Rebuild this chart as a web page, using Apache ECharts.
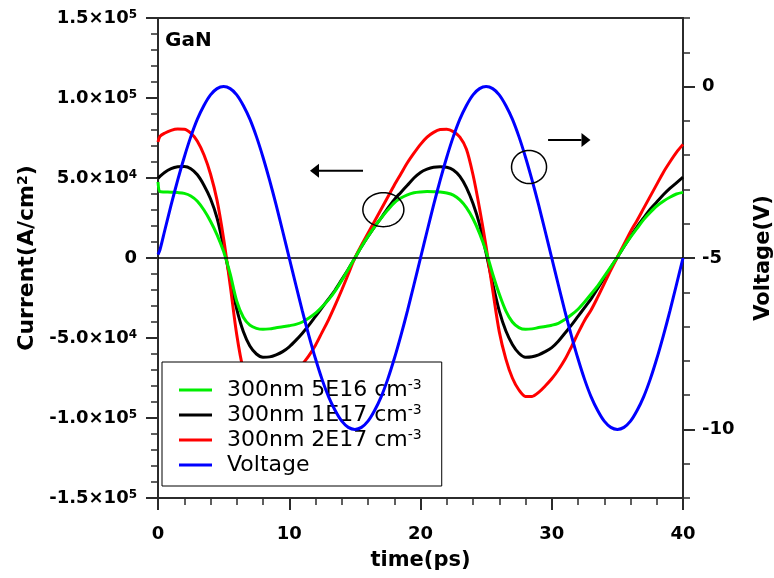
<!DOCTYPE html>
<html><head><meta charset="utf-8">
<script src="https://cdn.jsdelivr.net/npm/echarts@6/dist/echarts.min.js"></script>
<style>html,body{margin:0;padding:0;background:#fff}#c{width:774px;height:578px}</style>
</head><body><div id="c"></div>
<script>
// time (ps)
const times = [0,0.15,0.5,1,1.5,2,2.5,3,3.5,4,4.5,5,5.5,6,6.5,7,7.5,8,8.5,9,9.5,10,10.5,11,11.5,12,12.5,13,13.5,14,14.5,15,15.5,16,16.5,17,17.5,18,18.5,19,19.5,20,20.5,21,21.5,22,22.5,23,23.5,24,24.5,25,25.5,26,26.5,27,27.5,28,28.5,29,29.5,30,30.5,31,31.5,32,32.5,33,33.5,34,34.5,35,35.5,36,36.5,37,37.5,38,38.5,39,39.5,40];
// current densities in units of 10^3 A/cm^2
const current5E16 = [47.5,41.5,41.3,41.1,40.9,40.4,38.8,35.5,30,23,14.5,4,-10,-27,-37,-42,-44,-44.6,-44.3,-43.6,-43,-42.3,-41.5,-40,-37.5,-34.5,-30.5,-26,-20.5,-14,-7,0,7,13.5,19.5,25,30,34.5,37.5,39.5,40.8,41.3,41.5,41.4,41.2,40.6,39.3,36.3,31.5,24.5,15.4,4,-10,-22.5,-33,-40,-43.5,-44.6,-44.3,-43.5,-42.8,-42,-40.8,-38.5,-35.5,-32,-27.5,-22.5,-17.5,-11.5,-5.5,0.5,7,13,18.5,24,28.5,32.5,35.5,38,40,41];
const current1E17 = [49.8,51,53.5,55.8,57,57.2,55.8,52,45.5,37,25,7,-13,-32,-46,-55,-60,-62,-61.8,-60.5,-58.5,-55.5,-51.5,-47,-42,-36.5,-31,-25.5,-20,-13.5,-7,0,7,13.5,19.5,25,31,36.5,41,45.5,50,53.5,55.5,56.7,57,56.7,55,51,44,34,21,3,-16,-33,-45.5,-54,-59.5,-62,-61.7,-60.5,-58.5,-56,-52,-47,-42,-36.5,-31,-25.5,-19,-12.5,-6,0.5,7,13.5,19.5,25,30.5,35,39.5,43.5,47,50.5];
const current2E17 = [72.5,76,78,79.8,80.6,80.5,78,73,64.5,52.5,36,12,-17,-48,-70,-81.5,-85.5,-86.8,-86.5,-84.5,-81,-77,-72,-66.5,-61,-54.5,-46.5,-38.5,-29.5,-20,-10,0,8,15.5,23,30.5,38,45.5,52.5,59.5,65.5,71,75.5,78.5,80.3,80.5,79,75.5,68,52,31,7,-20,-46,-63,-75,-82.5,-86.5,-86.5,-84,-80,-75.5,-70,-63.5,-55.5,-47,-39,-32.5,-24.5,-16,-7.5,0.5,8.5,16.5,23.5,31,38.5,46,53.5,60,66,71];
// voltage (V)
const voltage = [-4.9,-4.76,-4.22,-3.45,-2.73,-2.06,-1.46,-0.95,-0.55,-0.24,-0.06,0,-0.06,-0.24,-0.55,-0.95,-1.46,-2.06,-2.73,-3.45,-4.22,-5,-5.78,-6.55,-7.27,-7.94,-8.54,-9.05,-9.45,-9.76,-9.94,-10,-9.94,-9.76,-9.45,-9.05,-8.54,-7.94,-7.27,-6.55,-5.78,-5,-4.22,-3.45,-2.73,-2.06,-1.46,-0.95,-0.55,-0.24,-0.06,0,-0.06,-0.24,-0.55,-0.95,-1.46,-2.06,-2.73,-3.45,-4.22,-5,-5.78,-6.55,-7.27,-7.94,-8.54,-9.05,-9.45,-9.76,-9.94,-10,-9.94,-9.76,-9.45,-9.05,-8.54,-7.94,-7.27,-6.55,-5.78,-5];
const voltageTicks = [0,-5,-10];
const seriesNames = ['300nm 5E16','300nm 1E17','300nm 2E17','Voltage'];
const KA = 1000;

const FONT = 'DejaVu Sans';
const AX = '#2b2b2b';
const pairs = (arr, k) => times.map((t, i) => [t, arr[i] * k]);

function sci(v) {
  if (v === 0) return '0';
  const e = Math.floor(Math.log10(Math.abs(v)) + 1e-9);
  const m = (v / Math.pow(10, e)).toFixed(1);
  return m + '×10{sup|' + e + '}';
}
const tickFont = {fontFamily: FONT, fontWeight: 'bold', fontSize: 18, color: '#000'};
const supRich = {sup: {fontFamily: FONT, fontWeight: 'bold', fontSize: 12, color: '#000', verticalAlign: 'top', lineHeight: 12}};

const chart = echarts.init(document.getElementById('c'), null, {renderer: 'canvas'});
const lineSeries = (name, data, color, yi, z) => ({
  name, type: 'line', data, xAxisIndex: 0, yAxisIndex: yi, showSymbol: false, symbol: 'none',
  smooth: 0.3, z, lineStyle: {color, width: 3}, itemStyle: {color}, silent: true
});
const gridRect = {left: 158, right: 91, top: 18, bottom: 80, containLabel: false, outerBoundsMode: 'none'};

const option = {
  animation: false,
  backgroundColor: '#fff',
  title: {text: 'GaN', left: 165, top: 31, padding: 0,
    textStyle: {fontFamily: FONT, fontWeight: 'bold', fontSize: 20, color: '#000'}},
  grid: [
    Object.assign({show: true, borderColor: AX, borderWidth: 2, backgroundColor: 'transparent'}, gridRect),
    Object.assign({show: false}, gridRect)
  ],
  legend: {
    orient: 'vertical', left: 162, top: 362, data: seriesNames,
    backgroundColor: '#fff', borderColor: '#000', borderWidth: 1,
    padding: [16, 20, 9, 17], itemGap: 1, itemWidth: 33, itemHeight: 3, icon: 'rect',
    formatter: n => n === 'Voltage' ? n : n + ' cm{sup|-3}',
    textStyle: {fontFamily: FONT, fontSize: 22, color: '#000', padding: [0, 0, 0, 10], lineHeight: 24,
      rich: {sup: {fontFamily: FONT, fontSize: 14, color: '#000', verticalAlign: 'top', lineHeight: 14}}}
  },
  xAxis: [
    {
      type: 'value', gridIndex: 0, min: 0, max: 40, interval: 10,
      name: 'time(ps)', nameLocation: 'middle', nameGap: 52,
      nameTextStyle: {fontFamily: FONT, fontWeight: 'bold', fontSize: 21, color: '#000'},
      axisLine: {show: true, onZero: false, lineStyle: {color: AX, width: 2}},
      axisTick: {show: true, length: 12, lineStyle: {color: AX, width: 2}},
      minorTick: {show: true, splitNumber: 5, length: 7, lineStyle: {color: AX, width: 1.5}},
      axisLabel: Object.assign({margin: 27}, tickFont),
      splitLine: {show: false}
    },
    {type: 'value', gridIndex: 1, min: 0, max: 40, show: false, axisLine: {onZero: false}}
  ],
  yAxis: [
    {
      type: 'value', gridIndex: 0, min: -150000, max: 150000, interval: 50000, position: 'left',
      name: 'Current(A/cm{sup|2})', nameLocation: 'middle', nameRotate: 90, nameGap: 118,
      nameTextStyle: {fontFamily: FONT, fontWeight: 'bold', fontSize: 22, color: '#000',
        rich: {sup: {fontFamily: FONT, fontWeight: 'bold', fontSize: 14, color: '#000', verticalAlign: 'top', lineHeight: 14}}},
      axisLine: {show: true, onZero: false, lineStyle: {color: AX, width: 2}},
      axisTick: {show: true, length: 12, lineStyle: {color: AX, width: 2}},
      minorTick: {show: true, splitNumber: 5, length: 7, lineStyle: {color: AX, width: 1.5}},
      axisLabel: Object.assign({margin: 21, formatter: sci, rich: supRich}, tickFont),
      splitLine: {show: false}
    },
    {
      type: 'value', gridIndex: 0, min: -12, max: 2, position: 'right',
      name: 'Voltage(V)', nameLocation: 'middle', nameRotate: 90, nameGap: 70,
      nameTextStyle: {fontFamily: FONT, fontWeight: 'bold', fontSize: 21, color: '#000'},
      axisLine: {show: true, onZero: false, lineStyle: {color: AX, width: 2}},
      axisTick: {show: true, length: 12, customValues: voltageTicks, lineStyle: {color: AX, width: 2}},
      axisLabel: Object.assign({margin: 19, customValues: voltageTicks}, tickFont),
      splitLine: {show: false}
    },
    {
      type: 'value', gridIndex: 1, min: -12, max: 2, interval: 1, position: 'right',
      axisLine: {show: false, onZero: false}, axisLabel: {show: false}, splitLine: {show: false},
      axisTick: {show: true, length: 7, lineStyle: {color: AX, width: 1.5}}
    }
  ],
  series: [
    lineSeries(seriesNames[0], pairs(current5E16, KA), '#00ee00', 0, 4),
    Object.assign(lineSeries(seriesNames[1], pairs(current1E17, KA), '#000000', 0, 2), {
      markLine: {silent: true, symbol: ['none', 'none'], label: {show: false},
        lineStyle: {color: '#000', width: 1.5, type: 'solid'}, data: [{yAxis: 0}]}
    }),
    lineSeries(seriesNames[2], pairs(current2E17, KA), '#ff0000', 0, 3),
    lineSeries(seriesNames[3], pairs(voltage, 1), '#0000ff', 1, 5)
  ]
};
chart.setOption(option);

// annotations anchored in data coordinates (time, current in 10^3 A/cm^2)
const px = (t, i) => chart.convertToPixel({xAxisIndex: 0, yAxisIndex: 0}, [t, i * KA]);
function ellipse(c, rx, ry) {
  const pts = [];
  for (let k = 0; k < 64; k++) { const a = k / 64 * Math.PI * 2; pts.push([c[0] + rx * Math.cos(a), c[1] + ry * Math.sin(a)]); }
  return {type: 'polygon', shape: {points: pts}, style: {fill: 'none', stroke: '#000', lineWidth: 1.5}, z: 20};
}
function arrow(from, to) {
  const dir = Math.sign(to[0] - from[0]);
  const base = to[0] - dir * 9;
  return [
    {type: 'line', shape: {x1: from[0], y1: from[1], x2: base, y2: to[1]}, style: {stroke: '#000', lineWidth: 2}, z: 20},
    {type: 'polygon', shape: {points: [[to[0], to[1]], [base, to[1] - 7], [base, to[1] + 7]]}, style: {fill: '#000'}, z: 20}
  ];
}
const g = [
  ellipse(px(17.17, 30.2), 20.5, 17),
  ellipse(px(28.27, 56.9), 17.5, 16.5),
  ...arrow(px(15.62, 54.6), px(11.58, 54.6)),
  ...arrow(px(29.72, 73.75), px(32.95, 73.75))
];
chart.setOption({graphic: g});
</script>
</body></html>
